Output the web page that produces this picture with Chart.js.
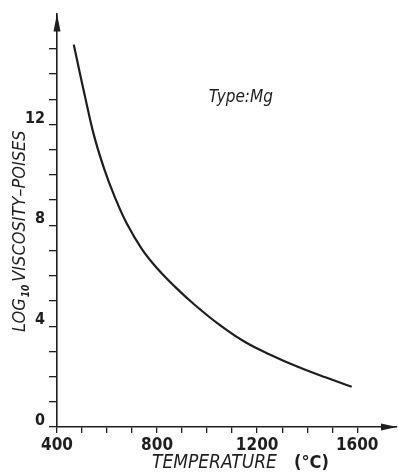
<!DOCTYPE html>
<html>
<head>
<meta charset="utf-8">
<script src="https://cdn.jsdelivr.net/npm/chart.js@4.4.1/dist/chart.umd.min.js"></script>
<style>
  html, body { margin: 0; padding: 0; background: #fff; }
  canvas { display: block; }
</style>
</head>
<body>
<canvas id="visc" width="398" height="472"></canvas>
<script>
// curve
const temperatureC = [467, 490, 511, 547, 590, 630, 680, 740, 800, 870, 950, 1050, 1150, 1250, 1360, 1470, 1578];
const logViscosity = [15.17, 14.1, 13.15, 11.6, 10.2, 9.15, 8.05, 7.05, 6.3, 5.58, 4.85, 4.05, 3.38, 2.88, 2.4, 1.98, 1.6];

const xTickLabels = [400, 800, 1200, 1600];
const yTickLabels = [0, 4, 8, 12];
const xLastTick = 1600;
const yLastTick = 15;

const ink = "#1e1e1e";
const fam = "'DejaVu Sans Condensed', 'DejaVu Sans', sans-serif";

const extras = {
  id: "extras",
  afterDraw(chart) {
    const c = chart.ctx;
    const a = chart.chartArea;
    const xs = chart.scales.x;
    const ys = chart.scales.y;
    c.save();
    c.fillStyle = ink;
    c.strokeStyle = ink;

    // arrow heads
    c.beginPath();
    c.moveTo(a.left, a.top);
    c.lineTo(a.left - 3.5, a.top + 18);
    c.lineTo(a.left + 3.5, a.top + 18);
    c.closePath();
    c.fill();
    c.beginPath();
    c.moveTo(a.right, a.bottom);
    c.lineTo(a.right - 16, a.bottom - 3.5);
    c.lineTo(a.right - 16, a.bottom + 3.5);
    c.closePath();
    c.fill();

    // x title
    c.textBaseline = "alphabetic";
    c.textAlign = "left";
    c.font = "italic 19px " + fam;
    c.fillText("TEMPERATURE", 152, 468);
    c.font = "bold 18px " + fam;
    c.fillText("(°C)", 294, 468);

    // y title with subscript
    c.translate(25, 332);
    c.rotate(-Math.PI / 2);
    c.font = "italic 18px " + fam;
    c.fillText("LOG", 0, 0);
    let w = c.measureText("LOG").width;
    c.font = "italic bold 10px " + fam;
    c.fillText("10", w + 1, 4);
    w += c.measureText("10").width + 4;
    c.font = "italic 18px " + fam;
    c.fillText("VISCOSITY–POISES", w, 0);
    c.setTransform(1, 0, 0, 1, 0, 0);

    // annotation
    c.font = "italic 17px " + fam;
    c.textAlign = "center";
    c.textBaseline = "middle";
    c.fillText("Type:Mg", xs.getPixelForValue(1135), ys.getPixelForValue(13.05));
    c.restore();
  }
};

new Chart(document.getElementById("visc"), {
  type: "line",
  data: {
    datasets: [
      {
        data: temperatureC.map((t, i) => ({ x: t, y: logViscosity[i] })),
        borderColor: ink,
        borderWidth: 2.2,
        pointRadius: 0,
        fill: false,
        tension: 0.4,
      },
    ],
  },
  options: {
    responsive: false,
    animation: false,
    layout: { padding: { top: 12, right: 1, left: 0, bottom: 0 } },
    plugins: {
      legend: { display: false },
      tooltip: { enabled: false },
    },
    scales: {
      x: {
        type: "linear",
        min: 400,
        max: 1759,
        afterFit: (s) => { s.height = 45; },
        afterBuildTicks: (s) => { s.ticks = s.ticks.filter((t) => t.value <= xLastTick); },
        border: { display: true, color: ink, width: 1.6 },
        grid: { drawOnChartArea: false, drawTicks: true, tickLength: 6, color: ink, lineWidth: 1.3 },
        ticks: {
          stepSize: 100,
          includeBounds: false,
          autoSkip: false,
          maxRotation: 0,
          padding: 2,
          color: ink,
          font: { family: fam, size: 17, weight: "bold" },
          callback: (v) => (xTickLabels.includes(v) ? String(v) : ""),
        },
      },
      y: {
        min: 0,
        max: 16.4,
        afterFit: (s) => { s.width = 57; },
        afterBuildTicks: (s) => { s.ticks = s.ticks.filter((t) => t.value <= yLastTick); },
        border: { display: true, color: ink, width: 1.6 },
        grid: { drawOnChartArea: false, drawTicks: true, tickLength: 8, color: ink, lineWidth: 1.3 },
        ticks: {
          stepSize: 1,
          includeBounds: false,
          autoSkip: false,
          padding: 4,
          labelOffset: -6,
          color: ink,
          font: { family: fam, size: 16, weight: "bold" },
          callback: (v) => (yTickLabels.includes(v) ? String(v) : ""),
        },
      },
    },
  },
  plugins: [extras],
});
</script>
</body>
</html>
